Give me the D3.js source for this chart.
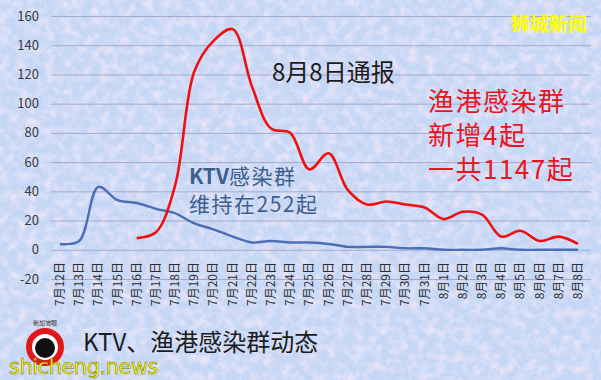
<!DOCTYPE html>
<meta charset="utf-8">
<style>
    html, body {
        margin: 0;
        padding: 0;
        background: #c9d8f4;
    }
    svg {
        display: block;
        font-family: "Noto Sans CJK SC", "Noto Sans", sans-serif;
    }
    .grid line {
        stroke: #a7a9c9;
        stroke-width: 1;
    }
    .ytick {
        fill: #3a3a3a;
        font-size: 13px;
    }
    .xtick {
        fill: #2c2c2c;
        font-size: 12px;
    }
</style>
<div id="chart"></div>
<script src="https://cdn.jsdelivr.net/npm/d3@7"></script>
<script>
    // categories: 7/12 .. 8/8
    var dates = ["7月12日", "7月13日", "7月14日", "7月15日", "7月16日", "7月17日", "7月18日",
        "7月19日", "7月20日", "7月21日", "7月22日", "7月23日", "7月24日", "7月25日",
        "7月26日", "7月27日", "7月28日", "7月29日", "7月30日", "7月31日",
        "8月1日", "8月2日", "8月3日", "8月4日", "8月5日", "8月6日", "8月7日", "8月8日"];

    // KTV cluster, daily new cases (blue)
    var ktv = [4, 6, 43, 34, 32, 28, 25, 18, 14, 9, 5, 6, 5, 5,
        4, 2, 2, 2, 1, 1, 0, 0, 0, 1, 0, 0, 0, 0];

    // fishery port cluster, daily new cases (red), starts 7/16
    var port = [null, null, null, null, 8, 12, 44, 122, 143, 151, 112, 83, 80, 55,
        66, 41, 31, 33, 31, 29, 21, 26, 24, 9, 13, 6, 9, 4];

    var yTicks = [-20, 0, 20, 40, 60, 80, 100, 120, 140, 160];

    var W = 601, H = 380;

    var svg = d3.select("#chart").append("svg")
        .attr("width", W)
        .attr("height", H);

    // mottled blue / pink background
    var defs = svg.append("defs");
    var f1 = defs.append("filter").attr("id", "tex")
        .attr("x", 0).attr("y", 0).attr("width", "100%").attr("height", "100%");
    f1.append("feTurbulence")
        .attr("type", "fractalNoise")
        .attr("baseFrequency", "0.11")
        .attr("numOctaves", 2)
        .attr("seed", 7);
    f1.append("feColorMatrix")
        .attr("type", "matrix")
        .attr("values", "0 0 0 0 0.91  0 0 0 0 0.80  0 0 0 0 0.93  1.8 0 0 0 -0.72");

    var f2 = defs.append("filter").attr("id", "grain")
        .attr("x", 0).attr("y", 0).attr("width", "100%").attr("height", "100%");
    f2.append("feTurbulence")
        .attr("type", "fractalNoise")
        .attr("baseFrequency", "0.5")
        .attr("numOctaves", 1)
        .attr("seed", 3);
    f2.append("feColorMatrix")
        .attr("type", "matrix")
        .attr("values", "0 0 0 0 0.85  0 0 0 0 0.93  0 0 0 0 1  0 0 0 1.4 -0.55");

    svg.append("rect").attr("width", W).attr("height", H).attr("fill", "#c3d5f5");
    svg.append("rect").attr("width", W).attr("height", H).attr("filter", "url(#tex)");
    svg.append("rect").attr("width", W).attr("height", H).attr("filter", "url(#grain)").attr("opacity", 0.4);

    // scales
    var x = d3.scalePoint()
        .domain(dates)
        .range([60, 578]);

    var y = d3.scaleLinear()
        .domain([-20, 160])
        .range([279, 16]);

    // horizontal gridlines
    svg.append("g").attr("class", "grid")
        .selectAll("line")
        .data(yTicks)
        .enter().append("line")
        .attr("x1", 51).attr("x2", 591)
        .attr("y1", function(d) { return y(d) + 0.5; })
        .attr("y2", function(d) { return y(d) + 0.5; });

    // y tick labels
    svg.append("g")
        .selectAll("text")
        .data(yTicks)
        .enter().append("text")
        .attr("class", "ytick")
        .attr("x", 39)
        .attr("y", function(d) { return y(d); })
        .attr("dy", "0.35em")
        .attr("text-anchor", "end")
        .text(function(d) { return d; });

    // x tick labels, rotated
    svg.append("g")
        .selectAll("text")
        .data(dates)
        .enter().append("text")
        .attr("class", "xtick")
        .attr("transform", function(d) { return "translate(" + (x(d) + 4) + ",262) rotate(-90)"; })
        .attr("text-anchor", "end")
        .text(function(d) { return d; });

    // lines (smoothed like the spreadsheet chart)
    var line = d3.line()
        .defined(function(d) { return d[1] !== null; })
        .x(function(d) { return x(d[0]); })
        .y(function(d) { return y(d[1]); })
        .curve(d3.curveCatmullRom.alpha(0.5));

    svg.append("path")
        .datum(dates.map(function(d, i) { return [d, ktv[i]]; }))
        .attr("fill", "none")
        .attr("stroke", "#4b6fb5")
        .attr("stroke-width", 2.4)
        .attr("d", line);

    svg.append("path")
        .datum(dates.map(function(d, i) { return [d, port[i]]; }))
        .attr("fill", "none")
        .attr("stroke", "#ee1111")
        .attr("stroke-width", 2.6)
        .attr("d", line);

    // annotations
    svg.append("text")
        .attr("x", 272).attr("y", 81)
        .attr("font-size", 24)
        .attr("fill", "#1c1c1c")
        .text("8月8日通报");

    var red = svg.append("g").attr("fill", "#e8141e").attr("font-size", 26).attr("letter-spacing", 1.5);
    red.append("text").attr("x", 428).attr("y", 111).text("渔港感染群");
    red.append("text").attr("x", 428).attr("y", 145).text("新增4起");
    red.append("text").attr("x", 428).attr("y", 179).text("一共1147起");

    var blue = svg.append("g").attr("fill", "#3d5f8c").attr("font-size", 21);
    blue.append("text").attr("x", 189).attr("y", 184).attr("font-weight", "bold").text("KTV")
        .append("tspan").attr("font-weight", "normal").attr("letter-spacing", 1.5).text("感染群");
    blue.append("text").attr("x", 189).attr("y", 212).attr("letter-spacing", 1.5).text("维持在252起");

    // watermark top right
    svg.append("text")
        .attr("x", 511).attr("y", 31)
        .attr("font-size", 19)
        .attr("font-weight", "bold")
        .attr("fill", "#ffff00")
        .text("狮城新闻");

    // bottom logo
    var logo = svg.append("g").attr("transform", "translate(45,347)");
    logo.append("circle").attr("r", 16).attr("fill", "#ffffff").attr("stroke", "#e01818").attr("stroke-width", 6);
    logo.append("circle").attr("r", 10).attr("cx", 0).attr("cy", 1).attr("fill", "#111111");
    logo.append("text").attr("y", -22).attr("text-anchor", "middle")
        .attr("font-size", 6).attr("fill", "#333").text("新加坡眼");

    svg.append("text")
        .attr("x", 83).attr("y", 351)
        .attr("font-size", 24)
        .attr("fill", "#1c1c1c")
        .text("KTV、渔港感染群动态");

    svg.append("text")
        .attr("x", 9).attr("y", 374)
        .attr("font-size", 21)
        .attr("font-family", "DejaVu Sans, sans-serif")
        .attr("fill", "#ffff00")
        .attr("stroke", "#6a6a20")
        .attr("stroke-width", 0.5)
        .attr("letter-spacing", -0.5)
        .text("shicheng.news");
</script>
